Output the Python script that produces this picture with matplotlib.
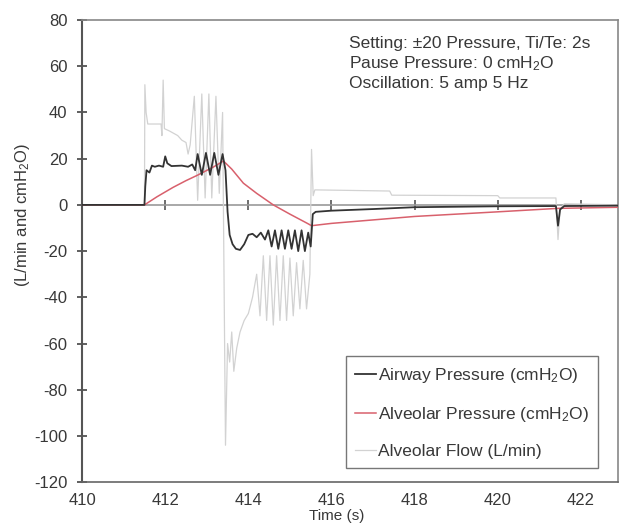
import matplotlib
matplotlib.use("Agg")
import matplotlib.pyplot as plt

plt.rcParams["font.family"] = ["Liberation Sans", "DejaVu Sans"]
plt.rcParams["mathtext.fontset"] = "custom"
plt.rcParams["mathtext.rm"] = "Liberation Sans"
plt.rcParams["mathtext.default"] = "regular"
plt.rcParams["axes.unicode_minus"] = False

# Airway pressure (cmH2O)
airway_t = [410.0, 411.50, 411.52, 411.55, 411.62, 411.68, 411.75, 411.85, 411.95,
            412.0, 412.05, 412.15, 412.4, 412.55, 412.65, 412.72,
            412.78, 412.88, 412.98, 413.08, 413.18, 413.28, 413.38, 413.45,
            413.50, 413.55, 413.62, 413.70, 413.80, 413.90, 414.00, 414.10,
            414.20, 414.30, 414.40, 414.48, 414.56, 414.64, 414.72, 414.80,
            414.88, 414.96, 415.04, 415.12, 415.20, 415.28, 415.36, 415.44,
            415.50, 415.55, 415.62, 416.0, 417.0, 418.0, 419.0, 420.0,
            421.40, 421.45, 421.50, 421.60, 423.0]
airway_v = [0, 0, 8, 15, 14, 17, 16.5, 17, 16.5,
            21, 18, 16.8, 17, 16.5, 17.5, 15,
            22, 13, 22.5, 13, 22.5, 13, 22, 15,
            -3, -13, -17, -19, -19.5, -17, -13, -12.5,
            -14, -12, -15, -11, -18, -11, -19, -11,
            -19, -11, -19, -11, -20, -11, -20, -12,
            -18, -4, -3, -2.5, -1.8, -1, -0.8, -0.6,
            -0.5, -9, -2, -0.5, -0.3]

# Alveolar pressure (cmH2O)
alv_p_t = [410.0, 411.50, 411.56, 411.8, 412.19, 412.5, 412.77, 413.16, 413.40,
           413.6, 413.88, 414.2, 414.6, 415.0, 415.42, 415.52, 416.0, 417.0,
           418.0, 419.0, 420.0, 421.45, 423.0]
alv_p_v = [0, 0, 0.7, 3.5, 7.6, 10.5, 12.8, 16.4, 19.0,
           15.5, 9.4, 5, 0, -4, -8, -9, -8, -6.5,
           -5, -4, -3, -1.5, -1]

# Alveolar flow (L/min)
flow_t = [410.0, 411.50, 411.51, 411.54, 411.58, 411.90, 411.92, 411.95, 411.98,
          412.1, 412.3, 412.4, 412.5, 412.55, 412.6,
          412.70, 412.78, 412.88, 412.96, 413.05, 413.12, 413.22, 413.30, 413.38,
          413.45, 413.50, 413.55, 413.60, 413.65, 413.72, 413.80, 413.90,
          414.0, 414.1, 414.2, 414.28, 414.36, 414.44, 414.52, 414.60,
          414.68, 414.76, 414.84, 414.92, 415.00, 415.08, 415.16, 415.24,
          415.32, 415.40, 415.48, 415.52, 415.56, 415.60, 417.4, 417.45,
          420.0, 420.05, 421.40, 421.45, 421.50, 421.6, 423.0]
flow_v = [0, 0, 52, 40, 35, 35, 30, 54, 33,
          32, 30, 28, 27, 22, 26,
          47, 2, 48, 3, 48, 3, 47, 5, 40,
          -104, -60, -68, -55, -72, -62, -55, -50,
          -47, -40, -30, -48, -22, -50, -22, -52,
          -22, -50, -22, -50, -23, -48, -25, -45,
          -24, -45, -30, 24, 4, 6.5, 6, 4.2,
          4, 3, 3, -15, -2, 0.5, 0]

labels = ["Airway Pressure (cmH$_2$O)", "Alveolar Pressure (cmH$_2$O)",
          "Alveolar Flow (L/min)"]
x_ticks = [410, 412, 414, 416, 418, 420, 422]
y_ticks = [-120, -100, -80, -60, -40, -20, 0, 20, 40, 60, 80]

fig = plt.figure(figsize=(6.22, 5.27), dpi=100)
ax = fig.add_axes([0.132, 0.085, 0.862, 0.877])

ax.plot(flow_t, flow_v, color="#d2d2d2", lw=0.9, label=labels[2], zorder=2)
ax.plot(airway_t, airway_v, color="#333333", lw=1.3, label=labels[0], zorder=4)
ax.plot(alv_p_t, alv_p_v, color="#d8606c", lw=1.1, label=labels[1], zorder=3)

ax.set_xlim(410, 422.9)
ax.set_ylim(-120, 80)
ax.set_xticks(x_ticks)
ax.set_yticks(y_ticks)
ax.tick_params(axis="x", length=0, pad=8, labelsize=12, labelcolor="#383838")
ax.tick_params(axis="y", direction="inout", length=7, width=1.2, color="#444444",
               pad=7, labelsize=12, labelcolor="#383838")

for side in ["top", "right"]:
    ax.spines[side].set_color("#888888")
    ax.spines[side].set_linewidth(1.2)
ax.spines["left"].set_color("#555555")
ax.spines["left"].set_linewidth(1.5)
ax.spines["bottom"].set_color("#666666")
ax.spines["bottom"].set_linewidth(1.2)

# zero line acting as the crossing x axis, with tick marks
ax.axhline(0, color="#999999", lw=1.2, zorder=1)
zax = ax.secondary_xaxis(120 / 200)
zax.set_xticks(x_ticks[1:])
zax.tick_params(direction="inout", length=7, width=1.2, color="#555555", labelbottom=False,
                labeltop=False)
zax.spines["bottom"].set_visible(False)
zax.spines["top"].set_visible(False)

ax.set_xlabel("Time (s)", fontsize=11, color="#383838")
ax.xaxis.set_label_coords(0.474, -0.058)
ax.set_ylabel("(L/min and cmH$_2$O)", fontsize=12, color="#383838")
ax.yaxis.set_label_coords(-0.094, 0.578)

ax.text(0.498, 0.966, "Setting: \u00b120 Pressure, Ti/Te: 2s\nPause Pressure: 0 cmH$_2$O\n"
        "Oscillation: 5 amp 5 Hz", transform=ax.transAxes, ha="left", va="top",
        fontsize=12.5, color="#383838", linespacing=1.25)

handles, labs = ax.get_legend_handles_labels()
order = [1, 2, 0]
leg = ax.legend([handles[i] for i in order], [labs[i] for i in order],
                loc="lower right", bbox_to_anchor=(0.963, 0.030), fontsize=12.5,
                frameon=True, fancybox=False, framealpha=1, edgecolor="#777777",
                handlelength=1.2, handletextpad=0.1, labelspacing=1.15,
                borderpad=0.55, borderaxespad=0)
leg.get_frame().set_linewidth(1.0)
for t in leg.get_texts():
    t.set_color("#383838")

fig.savefig("out.png", dpi=100)
